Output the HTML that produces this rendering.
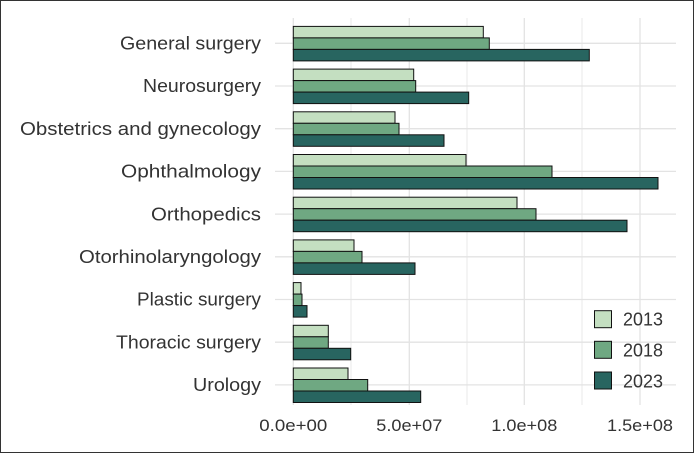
<!DOCTYPE html>
<html><head><meta charset="utf-8"><style>
html,body{margin:0;padding:0;background:#fff}
svg{display:block}
text{font-family:"Liberation Sans",sans-serif;fill:#333}
</style></head><body>
<svg width="694" height="453" viewBox="0 0 694 453" xmlns="http://www.w3.org/2000/svg">
<rect x="0.5" y="0.5" width="693" height="452" fill="#fff" stroke="#333" stroke-width="1"/>
<g stroke="#e8e8e8" stroke-width="1">
<line x1="351" y1="18" x2="351" y2="405"/><line x1="467" y1="18" x2="467" y2="405"/><line x1="582" y1="18" x2="582" y2="405"/>
</g>
<g stroke="#e3e3e3" stroke-width="1.3">
<line x1="293.3" y1="18" x2="293.3" y2="405"/><line x1="409.3" y1="18" x2="409.3" y2="405"/><line x1="524.3" y1="18" x2="524.3" y2="405"/><line x1="640" y1="18" x2="640" y2="405"/>
<line x1="275" y1="43.3" x2="676" y2="43.3"/><line x1="275" y1="86" x2="676" y2="86"/><line x1="275" y1="128.7" x2="676" y2="128.7"/><line x1="275" y1="171.4" x2="676" y2="171.4"/><line x1="275" y1="214.1" x2="676" y2="214.1"/><line x1="275" y1="256.8" x2="676" y2="256.8"/><line x1="275" y1="299.5" x2="676" y2="299.5"/><line x1="275" y1="342.2" x2="676" y2="342.2"/><line x1="275" y1="384.9" x2="676" y2="384.9"/>
</g>
<g stroke="#111" stroke-width="1">
<rect x="293.3" y="26.4" width="190" height="11.5" fill="#c4dfc1"/><rect x="293.3" y="37.9" width="196" height="11.5" fill="#6fa882"/><rect x="293.3" y="49.4" width="296" height="11.5" fill="#286560"/>
<rect x="293.3" y="69.1" width="120.4" height="11.5" fill="#c4dfc1"/><rect x="293.3" y="80.6" width="122.4" height="11.5" fill="#6fa882"/><rect x="293.3" y="92.1" width="175.4" height="11.5" fill="#286560"/>
<rect x="293.3" y="111.8" width="101.7" height="11.5" fill="#c4dfc1"/><rect x="293.3" y="123.3" width="105.7" height="11.5" fill="#6fa882"/><rect x="293.3" y="134.8" width="150.7" height="11.5" fill="#286560"/>
<rect x="293.3" y="154.5" width="172.7" height="11.5" fill="#c4dfc1"/><rect x="293.3" y="166" width="258.7" height="11.5" fill="#6fa882"/><rect x="293.3" y="177.5" width="364.7" height="11.5" fill="#286560"/>
<rect x="293.3" y="197.2" width="223.7" height="11.5" fill="#c4dfc1"/><rect x="293.3" y="208.7" width="242.7" height="11.5" fill="#6fa882"/><rect x="293.3" y="220.2" width="333.7" height="11.5" fill="#286560"/>
<rect x="293.3" y="239.9" width="60.7" height="11.5" fill="#c4dfc1"/><rect x="293.3" y="251.4" width="68.7" height="11.5" fill="#6fa882"/><rect x="293.3" y="262.9" width="121.7" height="11.5" fill="#286560"/>
<rect x="293.3" y="282.6" width="7.7" height="11.5" fill="#c4dfc1"/><rect x="293.3" y="294.1" width="8.7" height="11.5" fill="#6fa882"/><rect x="293.3" y="305.6" width="13.7" height="11.5" fill="#286560"/>
<rect x="293.3" y="325.3" width="35" height="11.5" fill="#c4dfc1"/><rect x="293.3" y="336.8" width="35" height="11.5" fill="#6fa882"/><rect x="293.3" y="348.3" width="57.4" height="11.5" fill="#286560"/>
<rect x="293.3" y="368" width="54.7" height="11.5" fill="#c4dfc1"/><rect x="293.3" y="379.5" width="74.4" height="11.5" fill="#6fa882"/><rect x="293.3" y="391" width="127.4" height="11.5" fill="#286560"/>
</g>
<g font-size="18" text-anchor="end" lengthAdjust="spacingAndGlyphs">
<text x="261" y="49.5" textLength="141" lengthAdjust="spacingAndGlyphs">General surgery</text>
<text x="261" y="92.2" textLength="118" lengthAdjust="spacingAndGlyphs">Neurosurgery</text>
<text x="261" y="134.9" textLength="241" lengthAdjust="spacingAndGlyphs">Obstetrics and gynecology</text>
<text x="261" y="177.6" textLength="140" lengthAdjust="spacingAndGlyphs">Ophthalmology</text>
<text x="261" y="220.3" textLength="110" lengthAdjust="spacingAndGlyphs">Orthopedics</text>
<text x="261" y="263" textLength="182" lengthAdjust="spacingAndGlyphs">Otorhinolaryngology</text>
<text x="261" y="305.7" textLength="124" lengthAdjust="spacingAndGlyphs">Plastic surgery</text>
<text x="261" y="348.4" textLength="145" lengthAdjust="spacingAndGlyphs">Thoracic surgery</text>
<text x="261" y="391.1" textLength="68" lengthAdjust="spacingAndGlyphs">Urology</text>
</g>
<g font-size="17" text-anchor="middle">
<text x="293.3" y="431" textLength="68" lengthAdjust="spacingAndGlyphs">0.0e+00</text>
<text x="409.3" y="431" textLength="66" lengthAdjust="spacingAndGlyphs">5.0e+07</text>
<text x="524.3" y="431" textLength="66" lengthAdjust="spacingAndGlyphs">1.0e+08</text>
<text x="640" y="431" textLength="66" lengthAdjust="spacingAndGlyphs">1.5e+08</text>
</g>
<g stroke="#111" stroke-width="1">
<rect x="594.5" y="310.7" width="17" height="17" fill="#c4dfc1"/>
<rect x="594.5" y="341.3" width="17" height="17" fill="#6fa882"/>
<rect x="594.5" y="372" width="17" height="17" fill="#286560"/>
</g>
<g font-size="18">
<text x="623" y="325.5" textLength="40" lengthAdjust="spacingAndGlyphs">2013</text>
<text x="623" y="356.5" textLength="40" lengthAdjust="spacingAndGlyphs">2018</text>
<text x="623" y="387.5" textLength="40" lengthAdjust="spacingAndGlyphs">2023</text>
</g>
</svg>
</body></html>
